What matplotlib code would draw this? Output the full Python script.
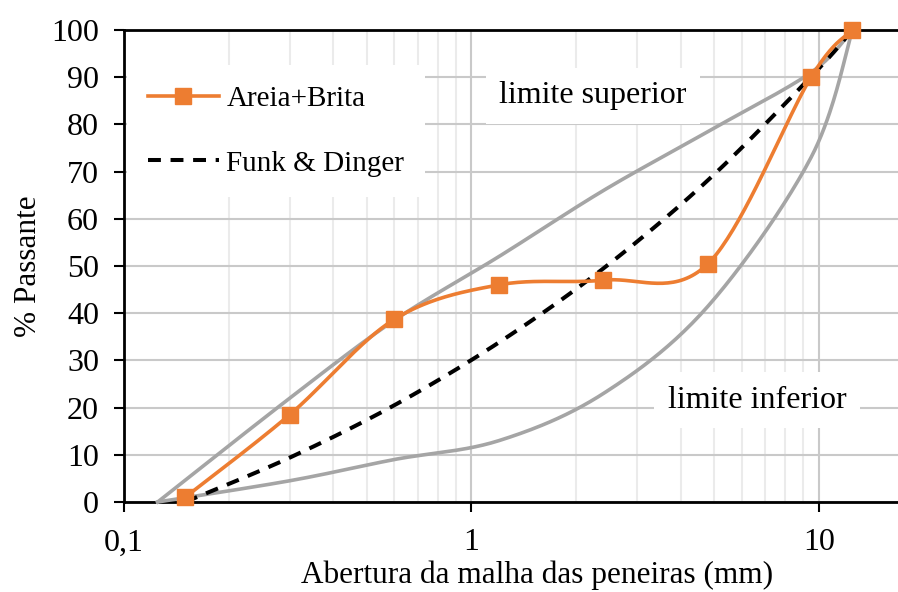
import numpy as np
import matplotlib.pyplot as plt
from matplotlib.ticker import FixedLocator, LogLocator, NullFormatter, FuncFormatter

plt.rcParams['font.family'] = ['Liberation Serif', 'DejaVu Serif']

# peneiras (mm) e % passante
abertura = [0.15, 0.3, 0.6, 1.2, 2.4, 4.8, 9.5, 12.5]
areia_brita = [1.0, 18.5, 38.7, 46.0, 47.0, 50.5, 90.0, 100.0]
funk_dinger = [0.0, 9.4, 20.5, 33.8, 49.5, 68.2, 90.1, 100.0]

abertura_lim = [0.125, 0.3, 0.6, 1.2, 2.4, 4.8, 9.5, 12.5]
lim_superior = [0.0, 22.0, 38.5, 52.0, 66.0, 78.5, 91.0, 100.0]
lim_inferior = [0.0, 4.5, 9.0, 13.0, 23.0, 41.5, 73.0, 100.0]


def suavizar(xs, ys, n=40):
    # curva suavizada (bezier tipo Catmull-Rom) no espaco log x
    u = np.log10(xs)
    v = np.asarray(ys, dtype=float)
    pu = np.r_[u[0], u, u[-1]]
    pv = np.r_[v[0], v, v[-1]]
    t = np.linspace(0, 1, n)
    U, V = [], []
    for i in range(len(u) - 1):
        a = np.array([pu[i], pv[i]])
        b = np.array([pu[i + 1], pv[i + 1]])
        c = np.array([pu[i + 2], pv[i + 2]])
        d = np.array([pu[i + 3], pv[i + 3]])
        c1 = b + (c - a) / 6
        c2 = c - (d - b) / 6
        pts = ((1 - t) ** 3)[:, None] * b + (3 * (1 - t) ** 2 * t)[:, None] * c1 \
            + (3 * (1 - t) * t ** 2)[:, None] * c2 + (t ** 3)[:, None] * c
        U.extend(pts[:, 0])
        V.extend(pts[:, 1])
    return 10 ** np.array(U), np.array(V)


fig = plt.figure(figsize=(8.98, 5.92), dpi=100)
ax = fig.add_axes([124 / 898, 90 / 592, 774 / 898, 472 / 592])

ax.set_xscale('log')
ax.set_xlim(0.1, 10 ** 1.228)
ax.set_ylim(0, 100)

cinza = '#A5A5A5'
laranja = '#ED7D31'
tracejado = (0, (3.2, 2.4))

xs, ys = suavizar(abertura_lim, lim_superior)
ax.plot(xs, ys, color=cinza, lw=2.6, zorder=3, clip_on=False)
xs, ys = suavizar(abertura_lim, lim_inferior)
ax.plot(xs, ys, color=cinza, lw=2.6, zorder=3, clip_on=False)

xs, ys = suavizar(abertura, funk_dinger)
ax.plot(xs, ys, color='black', lw=2.9, ls=tracejado, zorder=4)

xs, ys = suavizar(abertura, areia_brita)
ax.plot(xs, ys, color=laranja, lw=2.6, zorder=5, clip_on=False)
ax.plot(abertura, areia_brita, ls='none', marker='s', ms=12, color=laranja,
        zorder=6, clip_on=False)
h1, = ax.plot([], [], color=laranja, lw=2.6, marker='s', ms=12)
h2, = ax.plot([], [], color='black', lw=2.9, ls=tracejado)

# grade
ax.set_axisbelow(True)
ax.yaxis.set_major_locator(FixedLocator(np.arange(0, 101, 10)))
ax.xaxis.set_major_locator(FixedLocator([0.1, 1, 10]))
ax.xaxis.set_minor_locator(LogLocator(base=10, subs=np.arange(2, 10)))
ax.xaxis.set_minor_formatter(NullFormatter())
ax.xaxis.set_major_formatter(FuncFormatter(lambda v, p: ('%g' % v).replace('.', ',')))
ax.grid(True, which='major', axis='both', color='#C9C9C9', lw=1.5)
ax.grid(True, which='minor', axis='x', color='#EBEBEB', lw=1.5)

for s in ['left', 'bottom', 'top']:
    ax.spines[s].set_linewidth(2)
    ax.spines[s].set_color('black')
ax.spines['right'].set_visible(False)

ax.tick_params(axis='both', which='major', direction='out', length=7, width=1.5,
               labelsize=23, pad=11, color='black')
ax.tick_params(axis='x', which='minor', length=0)
ax.tick_params(axis='x', which='major', pad=12)

ax.set_xlabel('Abertura da malha das peneiras (mm)', fontsize=22.5)
ax.xaxis.set_label_coords(0.534, -0.124)
ax.set_ylabel('% Passante', fontsize=22.5, labelpad=6)

leg = ax.legend([h1, h2], ['Areia+Brita', 'Funk & Dinger'], loc='upper left',
                bbox_to_anchor=(0.004, 0.925), fontsize=21, frameon=True,
                fancybox=False, edgecolor='none', facecolor='white', framealpha=1,
                handlelength=2.45, handletextpad=0.25, labelspacing=1.3,
                borderpad=0.7, borderaxespad=0)
leg.set_zorder(7)

caixa = dict(facecolor='white', edgecolor='none', pad=10)
ax.text(593, 592 - 96, 'limite superior', transform=None, fontsize=23,
        ha='center', va='center', bbox=caixa, zorder=7)
ax.text(757, 592 - 400, 'limite inferior', transform=None, fontsize=23,
        ha='center', va='center', bbox=caixa, zorder=7)

fig.savefig('out.png', dpi=100)
